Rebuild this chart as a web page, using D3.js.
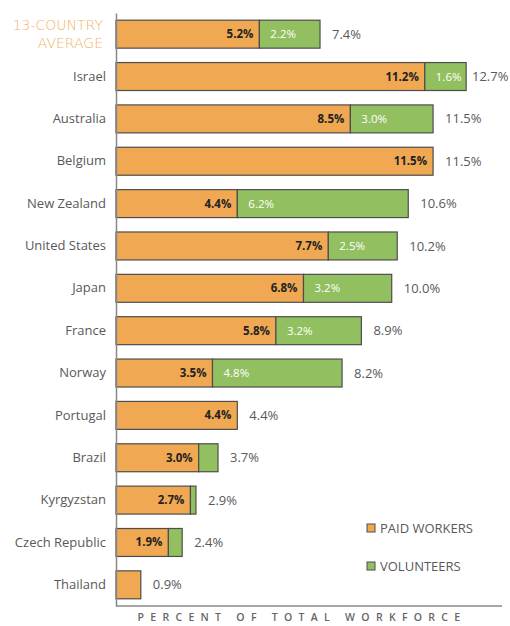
<!DOCTYPE html>
<html>
<head>
<meta charset="utf-8">
<script src="https://cdn.jsdelivr.net/npm/d3@7"></script>
<style>
  body { margin: 0; background: #fff; }
  svg { display: block; font-family: "Open Sans", sans-serif; }
</style>
</head>
<body>
<div id="chart"></div>
<script>
'use strict';

const countries = ['13-COUNTRY AVERAGE', 'Israel', 'Australia', 'Belgium', 'New Zealand', 'United States',
  'Japan', 'France', 'Norway', 'Portugal', 'Brazil', 'Kyrgyzstan', 'Czech Republic', 'Thailand'];
const paid = [5.2, 11.2, 8.5, 11.5, 4.4, 7.7, 6.8, 5.8, 3.5, 4.4, 3.0, 2.7, 1.9, 0.9];
const volunteers = [2.2, 1.6, 3.0, 0, 6.2, 2.5, 3.2, 3.2, 4.8, 0, 0.7, 0.2, 0.5, 0];
const totals = [7.4, 12.7, 11.5, 11.5, 10.6, 10.2, 10.0, 8.9, 8.2, 4.4, 3.7, 2.9, 2.4, 0.9];
const series = ['PAID WORKERS', 'VOLUNTEERS'];

const W = 510, H = 626;
const orange = '#f0a852', green = '#92c060', edge = '#4d4d4d', grey = '#595959';

const rows = countries.map((c, i) => ({ c, paid: paid[i], vol: volunteers[i], total: totals[i] }));

const svg = d3.select('#chart').append('svg').attr('width', W).attr('height', H);

const x = d3.scaleLinear().domain([0, 14]).range([116, 502]);
const y = d3.scaleBand().domain(countries).range([13, 606]).paddingInner(0.34).paddingOuter(0.17);

// paid segments
svg.append('g').selectAll('rect').data(rows).join('rect')
    .attr('x', x(0))
    .attr('y', d => y(d.c))
    .attr('width', d => x(d.paid) - x(0))
    .attr('height', y.bandwidth())
    .attr('fill', orange)
    .attr('stroke', edge)
    .attr('stroke-width', 1.2);

// volunteer segments (end at the rounded total)
svg.append('g').selectAll('rect').data(rows.filter(d => d.vol > 0)).join('rect')
    .attr('x', d => x(d.paid))
    .attr('y', d => y(d.c))
    .attr('width', d => x(d.total) - x(d.paid))
    .attr('height', y.bandwidth())
    .attr('fill', green)
    .attr('stroke', edge)
    .attr('stroke-width', 1.2);

const mid = d => y(d.c) + y.bandwidth() / 2;

// paid labels
svg.append('g').selectAll('text').data(rows.filter(d => d.paid >= 1.5)).join('text')
    .attr('x', d => x(d.paid) - 6)
    .attr('y', mid)
    .attr('dy', '0.35em')
    .attr('text-anchor', 'end')
    .style('font-size', '11.5px')
    .style('font-weight', 'bold')
    .attr('fill', '#222')
    .text(d => d.paid.toFixed(1) + '%');

// volunteer labels
svg.append('g').selectAll('text').data(rows.filter(d => d.vol >= 1.5)).join('text')
    .attr('x', d => x(d.paid) + 11)
    .attr('y', mid)
    .attr('dy', '0.35em')
    .style('font-size', '11.5px')
    .attr('fill', '#fff')
    .text(d => d.vol.toFixed(1) + '%');

// totals
svg.append('g').selectAll('text').data(rows).join('text')
    .attr('x', d => Math.min(x(d.total) + 12, W - 38))
    .attr('y', mid)
    .attr('dy', '0.35em')
    .style('font-size', '13px')
    .attr('fill', grey)
    .text(d => d.total.toFixed(1) + '%');

// category labels
const yAxis = svg.append('g')
    .attr('transform', `translate(${x(0)},0)`)
    .call(d3.axisLeft(y).tickSize(0).tickPadding(10));
yAxis.select('.domain').attr('stroke', '#888').attr('stroke-width', 1.5);
yAxis.selectAll('.tick text')
    .style('font-size', '13px')
    .style('font-family', '"Open Sans", sans-serif')
    .attr('fill', grey);

// average label in two orange lines
const avgTick = yAxis.selectAll('.tick').filter(d => d === countries[0]);
avgTick.select('text').remove();
avgTick.append('text')
    .attr('text-anchor', 'end')
    .style('font-size', '14px')
    .style('font-family', '"DejaVu Sans", sans-serif')
    .style('font-weight', '300')
    .attr('fill', '#f4b06a')
    .selectAll('tspan').data(['13-COUNTRY', 'AVERAGE']).join('tspan')
      .attr('x', -13)
      .attr('y', (d, i) => i === 0 ? -4 : 14)
      .text(d => d);

// bottom axis line
svg.append('line')
    .attr('x1', x(0)).attr('x2', x(14))
    .attr('y1', 606).attr('y2', 606)
    .attr('stroke', '#888').attr('stroke-width', 1.5);

svg.append('text')
    .attr('x', 302)
    .attr('y', 621)
    .attr('text-anchor', 'middle')
    .style('font-size', '10.5px')
    .style('font-weight', '600')
    .style('letter-spacing', '6.3px')
    .attr('fill', '#666')
    .text('PERCENT OF TOTAL WORKFORCE');

// legend
const legend = svg.append('g').selectAll('g').data(series).join('g')
    .attr('transform', (d, i) => `translate(367,${528 + i * 38})`);
legend.append('rect')
    .attr('width', 8).attr('height', 8).attr('y', -4)
    .attr('fill', (d, i) => i === 0 ? orange : green)
    .attr('stroke', edge);
legend.append('text')
    .attr('x', 13)
    .attr('dy', '0.35em')
    .style('font-size', '13px')
    .attr('fill', grey)
    .text(d => d);
</script>
</body>
</html>
